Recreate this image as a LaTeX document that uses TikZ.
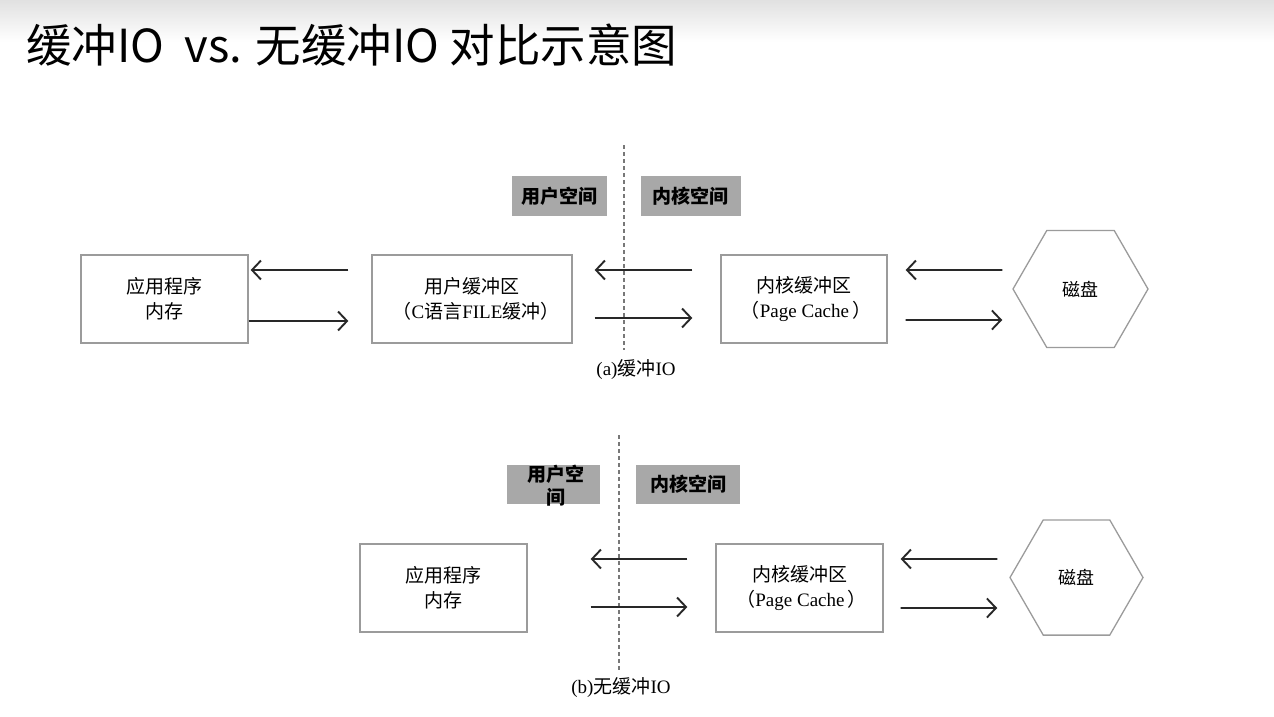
\documentclass[tikz,border=0pt]{standalone}
\usepackage{fontspec}
\setmainfont{Liberation Serif}
\newfontfamily\cjkf{Noto Sans CJK SC}
\newcommand{\zh}[1]{{\cjkf #1}}
\usetikzlibrary{arrows.meta,calc,shapes.geometric}
\definecolor{boxgray}{RGB}{155,155,155}
\definecolor{arrowc}{RGB}{40,40,40}
\definecolor{labgray}{RGB}{168,168,168}
\definecolor{dashc}{RGB}{120,120,120}
\definecolor{topgray}{RGB}{225,225,225}
\tikzset{
  box/.style={draw=boxgray, line width=1.3pt, inner sep=0pt, align=center,
    minimum height=88pt, font=\fontsize{19}{25}\selectfont},
  disk/.style={draw=boxgray, line width=1.3pt, regular polygon, regular polygon sides=6,
    inner sep=0pt, font=\cjkf\fontsize{18}{22}\selectfont},
  arr/.style={draw=arrowc, line width=1.9pt, -{Straight Barb[length=9pt,width=19pt,line width=1.9pt]}},
  lab/.style={fill=labgray, inner sep=0pt, align=center, minimum height=40pt,
    font=\cjkf\bfseries\fontsize{19}{23}\selectfont},
  dashline/.style={draw=dashc, line width=1.3pt, dash pattern=on 4pt off 3pt},
  capt/.style={font=\fontsize{19}{21}\selectfont},
}
\begin{document}
\begin{tikzpicture}[x=1pt,y=-1pt]
\useasboundingbox (0,0) rectangle (1274,716);
\shade[top color=topgray, bottom color=white] (0,0) rectangle (1274,42);
\node[anchor=west, inner sep=0pt, font=\cjkf\fontsize{45.5}{52}\selectfont] (title) at (26,45) {缓冲IO\ \ vs. 无缓冲IO 对比示意图};

% ---------- (a) ----------
\coordinate (da1) at (624,145);
\coordinate (da2) at (624,350);
\draw[dashline] (da1) -- (da2);
\node[lab, minimum width=95pt] (usa) at (559.5,196) {用户空间};
\node[lab, minimum width=100pt] (ksa) at (690.5,196) {内核空间};

\node[box, minimum width=167pt] (appa) at (164.5,299) {\zh{应用程序}\\\zh{内存}};
\node[box, minimum width=200pt] (uba) at (472,299) {\zh{用户缓冲区}\\\hspace{8pt}\zh{（}C\zh{语言}FILE\zh{缓冲）}\hspace{8pt}};
\node[box, minimum width=166pt] (kba) at (804,299) {\zh{内核缓冲区}\\\hspace{4pt}\zh{（}Page Cache\hspace{3pt}\zh{）}\hspace{2pt}};
\node[disk, minimum size=135pt] (diska) at (1080.5,289) {磁盘};

\draw[arr] ($(uba.west)+(-23,-29)$) -- ($(appa.east)+(2,-29)$);
\draw[arr] ($(appa.east)+(0,22)$) -- ($(uba.west)+(-23,22)$);
\draw[arr] ($(kba.west)+(-28,-29)$) -- ($(uba.east)+(22,-29)$);
\draw[arr] ($(uba.east)+(22,19)$) -- ($(kba.west)+(-28,19)$);
\draw[arr] ($(diska.west)+(-10,-19)$) -- ($(kba.east)+(18,-29)$);
\draw[arr] ($(kba.east)+(18,21)$) -- ($(diska.west)+(-10,31)$);

\node[capt] (capa) at (636,370) {(a)\zh{缓冲}IO};

% ---------- (b) ----------
\coordinate (db1) at (619,435);
\coordinate (db2) at (619,670);
\draw[dashline] (db1) -- (db2);
\node[lab, minimum width=93pt, minimum height=39pt] (usb) at (553.5,484.5) {};
\node[font=\cjkf\bfseries\fontsize{19}{23}\selectfont, align=center, inner sep=0pt] (usbt) at (556,486) {用户空\\间};
\node[lab, minimum width=104pt, minimum height=39pt] (ksb) at (688,484.5) {内核空间};

\node[box, minimum width=167pt] (appb) at (443.5,588) {\zh{应用程序}\\\zh{内存}};
\node[box, minimum width=167pt] (kbb) at (799.5,588) {\zh{内核缓冲区}\\\hspace{4pt}\zh{（}Page Cache\hspace{3pt}\zh{）}\hspace{2pt}};
\node[disk, minimum size=133pt] (diskb) at (1076.5,577.5) {磁盘};

\draw[arr] ($(kbb.west)+(-28,-29)$) -- ($(appb.east)+(63,-29)$);
\draw[arr] ($(appb.east)+(63,19)$) -- ($(kbb.west)+(-28,19)$);
\draw[arr] ($(diskb.west)+(-12,-18.5)$) -- ($(kbb.east)+(17,-29)$);
\draw[arr] ($(kbb.east)+(17,20)$) -- ($(diskb.west)+(-12,30.5)$);

\node[capt] (capb) at (621,688) {(b)\zh{无缓冲}IO};
\end{tikzpicture}
\end{document}
